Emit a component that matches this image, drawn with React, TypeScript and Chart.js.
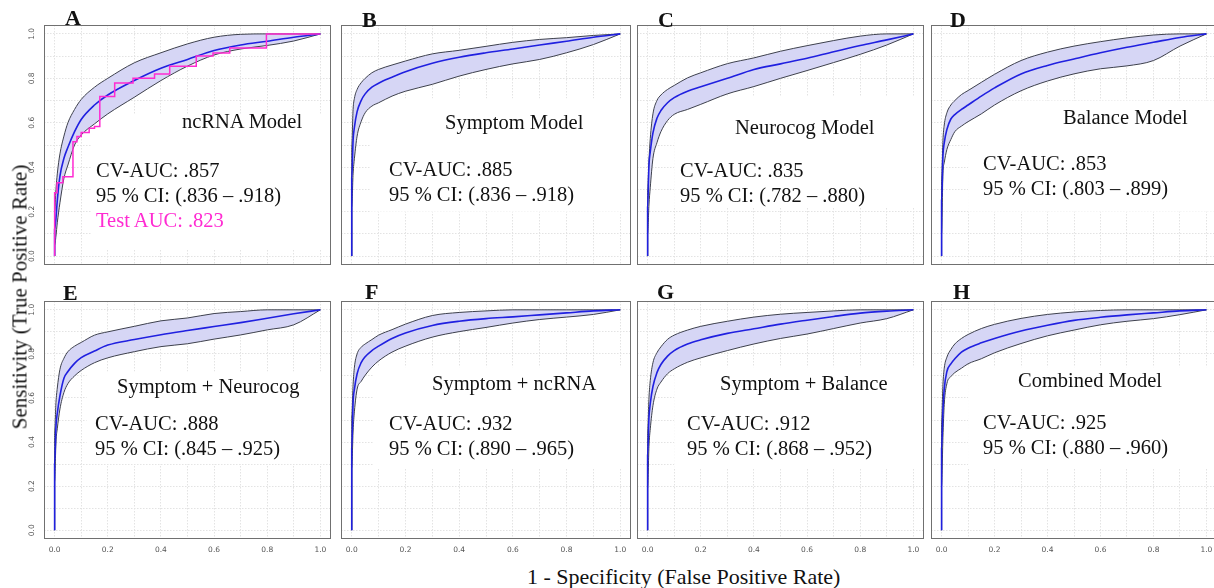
import React, { useEffect, useRef } from 'react';
import { Chart, registerables } from 'chart.js';

Chart.register(...registerables);

// ---------- DATA ----------
const FPR = [0, 0, 0.005, 0.01, 0.02, 0.035, 0.05, 0.075, 0.1, 0.15, 0.2, 0.3, 0.4, 0.5, 0.6, 0.7, 0.8, 0.9, 1.0];

const ncrnaLower = [0, 0.05, 0.09, 0.15, 0.24, 0.35, 0.41, 0.5, 0.545, 0.595, 0.64, 0.715, 0.79, 0.855, 0.905, 0.932, 0.948, 0.968, 1];
const ncrnaMean = [0, 0.12, 0.17, 0.25, 0.36, 0.44, 0.49, 0.56, 0.615, 0.68, 0.725, 0.79, 0.845, 0.885, 0.925, 0.95, 0.967, 0.985, 1];
const ncrnaUpper = [0, 0.2, 0.3, 0.37, 0.46, 0.54, 0.6, 0.66, 0.705, 0.76, 0.8, 0.87, 0.915, 0.955, 0.985, 0.998, 1, 1, 1];

const testFpr = [0, 0, 0.009, 0.031, 0.069, 0.084, 0.1, 0.13, 0.15, 0.17, 0.226, 0.295, 0.376, 0.433, 0.533, 0.596, 0.659, 0.797, 1.0];
const testTpr = [0, 0.285, 0.33, 0.357, 0.515, 0.538, 0.556, 0.575, 0.583, 0.718, 0.779, 0.8, 0.82, 0.854, 0.9, 0.914, 0.937, 1.0, 1.0];

const symptomLower = [0, 0.22, 0.37, 0.44, 0.54, 0.605, 0.645, 0.675, 0.69, 0.72, 0.742, 0.773, 0.81, 0.84, 0.865, 0.885, 0.915, 0.952, 1];
const symptomMean = [0, 0.35, 0.52, 0.58, 0.65, 0.7, 0.73, 0.76, 0.778, 0.805, 0.83, 0.868, 0.895, 0.915, 0.932, 0.95, 0.967, 0.985, 1];
const symptomUpper = [0, 0.5, 0.66, 0.71, 0.75, 0.78, 0.8, 0.825, 0.84, 0.86, 0.878, 0.91, 0.926, 0.944, 0.962, 0.975, 0.983, 0.993, 1];

const neurocogLower = [0, 0.1, 0.23, 0.31, 0.44, 0.51, 0.56, 0.61, 0.638, 0.66, 0.683, 0.73, 0.763, 0.8, 0.835, 0.871, 0.908, 0.95, 1];
const neurocogMean = [0, 0.22, 0.41, 0.47, 0.555, 0.62, 0.655, 0.69, 0.713, 0.742, 0.762, 0.8, 0.84, 0.865, 0.89, 0.92, 0.948, 0.973, 1];
const neurocogUpper = [0, 0.3, 0.43, 0.53, 0.64, 0.7, 0.725, 0.75, 0.768, 0.802, 0.825, 0.866, 0.892, 0.922, 0.947, 0.97, 0.99, 1, 1];

const balanceLower = [0, 0.1, 0.37, 0.42, 0.48, 0.525, 0.56, 0.585, 0.605, 0.64, 0.68, 0.744, 0.788, 0.82, 0.843, 0.856, 0.88, 0.945, 1];
const balanceMean = [0, 0.25, 0.45, 0.51, 0.57, 0.617, 0.637, 0.66, 0.68, 0.72, 0.757, 0.82, 0.858, 0.887, 0.915, 0.94, 0.962, 0.984, 1];
const balanceUpper = [0, 0.35, 0.52, 0.59, 0.645, 0.68, 0.7, 0.727, 0.745, 0.782, 0.818, 0.88, 0.918, 0.945, 0.965, 0.982, 0.995, 1, 1];

const symNeuLower = [0, 0.22, 0.4, 0.46, 0.55, 0.625, 0.665, 0.7, 0.725, 0.76, 0.782, 0.81, 0.833, 0.846, 0.867, 0.886, 0.909, 0.932, 1];
const symNeuMean = [0, 0.3, 0.47, 0.53, 0.61, 0.69, 0.72, 0.757, 0.783, 0.813, 0.84, 0.865, 0.887, 0.906, 0.924, 0.942, 0.962, 0.982, 1];
const symNeuUpper = [0, 0.45, 0.58, 0.645, 0.73, 0.78, 0.81, 0.835, 0.852, 0.885, 0.9, 0.925, 0.95, 0.963, 0.983, 0.992, 1, 1, 1];

const symRnaLower = [0, 0.28, 0.45, 0.54, 0.64, 0.675, 0.703, 0.74, 0.768, 0.808, 0.835, 0.876, 0.901, 0.92, 0.94, 0.956, 0.967, 0.979, 1];
const symRnaMean = [0, 0.37, 0.58, 0.64, 0.71, 0.76, 0.787, 0.815, 0.835, 0.87, 0.895, 0.929, 0.948, 0.96, 0.968, 0.977, 0.986, 0.995, 1];
const symRnaUpper = [0, 0.52, 0.66, 0.74, 0.8, 0.83, 0.845, 0.865, 0.885, 0.91, 0.935, 0.974, 0.988, 0.995, 1, 1, 1, 1, 1];

const symBalLower = [0, 0.19, 0.38, 0.46, 0.565, 0.64, 0.672, 0.71, 0.732, 0.762, 0.782, 0.815, 0.845, 0.87, 0.89, 0.915, 0.94, 0.96, 1];
const symBalMean = [0, 0.34, 0.51, 0.575, 0.652, 0.715, 0.752, 0.79, 0.815, 0.845, 0.864, 0.893, 0.914, 0.935, 0.953, 0.97, 0.985, 0.994, 1];
const symBalUpper = [0, 0.45, 0.6, 0.68, 0.76, 0.805, 0.832, 0.866, 0.885, 0.908, 0.925, 0.948, 0.967, 0.98, 0.988, 0.995, 1, 1, 1];

const combinedLower = [0, 0.2, 0.42, 0.57, 0.665, 0.697, 0.715, 0.735, 0.755, 0.778, 0.805, 0.847, 0.882, 0.908, 0.932, 0.948, 0.96, 0.978, 1];
const combinedMean = [0, 0.37, 0.54, 0.64, 0.72, 0.755, 0.778, 0.808, 0.826, 0.85, 0.87, 0.904, 0.93, 0.952, 0.966, 0.977, 0.986, 0.995, 1];
const combinedUpper = [0, 0.5, 0.66, 0.735, 0.785, 0.82, 0.845, 0.87, 0.888, 0.915, 0.934, 0.961, 0.979, 0.99, 0.997, 1, 1, 1, 1];

const gridTicks = [0, 0.1, 0.2, 0.3, 0.4, 0.5, 0.6, 0.7, 0.8, 0.9, 1.0];
const tickLabels = ['0.0', '', '0.2', '', '0.4', '', '0.6', '', '0.8', '', '1.0'];

const panelLetters = ['A', 'B', 'C', 'D', 'E', 'F', 'G', 'H'];
const panelNames = ['ncRNA Model', 'Symptom Model', 'Neurocog Model', 'Balance Model', 'Symptom + Neurocog', 'Symptom + ncRNA', 'Symptom + Balance', 'Combined Model'];
const cvAuc = ['.857', '.885', '.835', '.853', '.888', '.932', '.912', '.925'];
const ciText = ['(.836 \u2013 .918)', '(.836 \u2013 .918)', '(.782 \u2013 .880)', '(.803 \u2013 .899)', '(.845 \u2013 .925)', '(.890 \u2013 .965)', '(.868 \u2013 .952)', '(.880 \u2013 .960)'];
const testAucText = 'Test AUC: .823';

const lowers = [ncrnaLower, symptomLower, neurocogLower, balanceLower, symNeuLower, symRnaLower, symBalLower, combinedLower];
const means = [ncrnaMean, symptomMean, neurocogMean, balanceMean, symNeuMean, symRnaMean, symBalMean, combinedMean];
const uppers = [ncrnaUpper, symptomUpper, neurocogUpper, balanceUpper, symNeuUpper, symRnaUpper, symBalUpper, combinedUpper];

// ---------- LAYOUT / STYLE ----------
const COLS = [{ l: 44, r: 331 }, { l: 341, r: 631 }, { l: 637, r: 924 }, { l: 931, r: 1217 }];
const ROWS = [{ t: 25, b: 265 }, { t: 301, b: 539 }];
const LETTER_POS = [[65, 18], [362, 19.5], [658, 19.5], [950, 20], [63, 292.5], [365, 291.5], [657, 291.5], [953, 291.5]];
const TITLE_POS = [[182, 121], [445, 122], [735, 127], [1063, 117], [117, 386], [432, 383], [720, 383], [1018, 380]];
const STAT_POS = [[96, 170], [389, 169], [680, 170], [983, 163], [95, 423], [389, 423], [687, 423], [983, 422]];
// white backgrounds behind the text blocks (hide grid), in axis units: [x0, x1, y0, y1]
const TEXT_BG = [
  [0.14, 1.04, 0.03, 0.64],
  [0.07, 1.04, 0.2, 0.71],
  [0.1, 1.04, 0.22, 0.72],
  [0.1, 1.04, 0.2, 0.7],
  [0.12, 1.04, 0.3, 0.72],
  [0.08, 1.04, 0.28, 0.74],
  [0.1, 1.04, 0.28, 0.74],
  [0.1, 1.04, 0.28, 0.74],
];

const SERIF = '"Liberation Serif", "Times New Roman", Times, serif';
const BAND_FILL = '#d6d6f5';
const BAND_EDGE = '#3d404c';
const MEAN_COLOR = '#2020e0';
const TEST_COLOR = '#ff2bd2';
const GRID_COLOR = '#e3e3e3';

const boxPlugin = {
  id: 'panelBox',
  afterDatasetsDraw(chart: any) {
    const { ctx, chartArea } = chart;
    ctx.save();
    ctx.strokeStyle = '#707070';
    ctx.lineWidth = 1;
    ctx.strokeRect(chartArea.left + 0.5, chartArea.top + 0.5, chartArea.right - chartArea.left - 1, chartArea.bottom - chartArea.top - 1);
    ctx.restore();
  },
};

const textBgPlugin = {
  id: 'textBg',
  beforeDatasetsDraw(chart: any, _args: any, opts: any) {
    const r = opts && opts.rect;
    if (!r) return;
    const { ctx, chartArea, scales } = chart;
    const x0 = Math.max(chartArea.left + 1, scales.x.getPixelForValue(r[0]));
    const x1 = Math.min(chartArea.right - 1, scales.x.getPixelForValue(r[1]));
    const y0 = scales.y.getPixelForValue(r[3]);
    const y1 = scales.y.getPixelForValue(r[2]);
    ctx.save();
    ctx.fillStyle = '#ffffff';
    ctx.fillRect(x0, y0, x1 - x0, y1 - y0);
    ctx.restore();
  },
};

function Panel({ idx }: { idx: number }) {
  const ref = useRef<HTMLCanvasElement | null>(null);
  const col = idx % 4;
  const row = Math.floor(idx / 4);
  const padT = 2, padR = 2;
  const padL = col === 0 ? 24 : 2;
  const padB = row === 1 ? 22 : 2;
  const box = { l: COLS[col].l, r: COLS[col].r, t: ROWS[row].t, b: ROWS[row].b };
  const width = box.r - box.l + padL + padR;
  const height = box.b - box.t + padT + padB;

  useEffect(() => {
    if (!ref.current) return;
    const toPts = (xs: number[], ys: number[]) => xs.map((x, i) => ({ x, y: ys[i] }));
    const smooth = { cubicInterpolationMode: 'monotone' };
    const datasets: any[] = [
      { label: 'upper', data: toPts(FPR, uppers[idx]), borderColor: BAND_EDGE, borderWidth: 1, backgroundColor: BAND_FILL, fill: '+1', order: 3, ...smooth },
      { label: 'lower', data: toPts(FPR, lowers[idx]), borderColor: BAND_EDGE, borderWidth: 1, fill: false, order: 2, ...smooth },
      { label: 'mean', data: toPts(FPR, means[idx]), borderColor: MEAN_COLOR, borderWidth: 1.6, fill: false, order: 1, ...smooth },
    ];
    if (idx === 0) {
      datasets.push({ label: 'test', data: toPts(testFpr, testTpr), borderColor: TEST_COLOR, borderWidth: 1.5, fill: false, stepped: 'before', order: 0 });
    }
    const tickFont = { family: '"DejaVu Sans", Arial, sans-serif', size: 7.5 };
    const noPad = (s: any) => { s.paddingTop = 0; s.paddingBottom = 0; s.paddingLeft = 0; s.paddingRight = 0; };
    const chart = new Chart(ref.current, {
      type: 'line',
      data: { datasets },
      plugins: [textBgPlugin, boxPlugin],
      options: {
        animation: false,
        responsive: false,
        maintainAspectRatio: false,
        events: [],
        layout: { padding: { top: padT, right: padR, left: 0, bottom: 0 } },
        elements: { point: { radius: 0 }, line: { tension: 0 } },
        plugins: {
          legend: { display: false },
          tooltip: { enabled: false },
          title: { display: false },
          textBg: { rect: TEXT_BG[idx] },
        },
        scales: {
          x: {
            type: 'linear',
            min: -0.04,
            max: 1.04,
            afterBuildTicks: (s: any) => { s.ticks = gridTicks.map((v) => ({ value: v })); },
            afterFit: (s: any) => { s.height = padB; noPad(s); },
            ticks: {
              display: row === 1,
              autoSkip: false,
              maxRotation: 0,
              minRotation: 0,
              padding: 7,
              color: '#555',
              font: tickFont,
              callback: (_v: any, i: number) => tickLabels[i],
            },
            grid: { color: GRID_COLOR, lineWidth: 1, drawTicks: false },
            border: { display: false, dash: [1.5, 1.5] },
          },
          y: {
            type: 'linear',
            min: -0.04,
            max: 1.04,
            afterBuildTicks: (s: any) => { s.ticks = gridTicks.map((v) => ({ value: v })); },
            afterFit: (s: any) => { s.width = padL; noPad(s); },
            ticks: {
              display: col === 0,
              autoSkip: false,
              minRotation: 90,
              maxRotation: 90,
              crossAlign: 'center',
              padding: 6,
              color: '#555',
              font: tickFont,
              callback: (_v: any, i: number) => tickLabels[i],
            },
            grid: { color: GRID_COLOR, lineWidth: 1, drawTicks: false },
            border: { display: false, dash: [1.5, 1.5] },
          },
        },
      } as any,
    });
    return () => chart.destroy();
  }, [idx]);

  return (
    <canvas
      ref={ref}
      width={width}
      height={height}
      style={{ position: 'absolute', left: box.l - padL, top: box.t - padT, width, height }}
    />
  );
}

function Txt({ x, cy, size, children, color = '#111', bold = false }: any) {
  return (
    <div
      style={{
        position: 'absolute',
        left: x,
        top: cy - size / 2,
        fontFamily: SERIF,
        fontSize: size,
        lineHeight: 1,
        fontWeight: bold ? 'bold' : 'normal',
        color,
        whiteSpace: 'nowrap',
      }}
    >
      {children}
    </div>
  );
}

export default function App() {
  return (
    <div style={{ position: 'absolute', left: 0, top: 0, width: 1214, height: 588, overflow: 'hidden', background: '#fff' }}>
      {panelLetters.map((_, i) => <Panel key={'p' + i} idx={i} />)}
      {panelLetters.map((L, i) => (
        <Txt key={'l' + i} x={LETTER_POS[i][0]} cy={LETTER_POS[i][1]} size={22} bold>{L}</Txt>
      ))}
      {panelNames.map((n, i) => (
        <Txt key={'n' + i} x={TITLE_POS[i][0]} cy={TITLE_POS[i][1]} size={20.5}>{n}</Txt>
      ))}
      {cvAuc.map((a, i) => (
        <Txt key={'a' + i} x={STAT_POS[i][0]} cy={STAT_POS[i][1]} size={20.5}>{'CV-AUC: ' + a}</Txt>
      ))}
      {ciText.map((c, i) => (
        <Txt key={'c' + i} x={STAT_POS[i][0]} cy={STAT_POS[i][1] + 25} size={20.5}>{'95 % CI: ' + c}</Txt>
      ))}
      <Txt x={STAT_POS[0][0]} cy={STAT_POS[0][1] + 50} size={20.5} color={TEST_COLOR}>{testAucText}</Txt>
      <div
        style={{
          position: 'absolute',
          left: 20,
          top: 297,
          transform: 'translate(-50%, -50%) rotate(-90deg)',
          fontFamily: SERIF,
          fontSize: 21,
          lineHeight: 1,
          whiteSpace: 'nowrap',
          color: '#111',
        }}
      >
        Sensitivity (True Positive Rate)
      </div>
      <div
        style={{
          position: 'absolute',
          left: 527,
          top: 577 - 11,
          fontFamily: SERIF,
          fontSize: 22,
          lineHeight: 1,
          whiteSpace: 'nowrap',
          color: '#111',
        }}
      >
        1 - Specificity (False Positive Rate)
      </div>
    </div>
  );
}
